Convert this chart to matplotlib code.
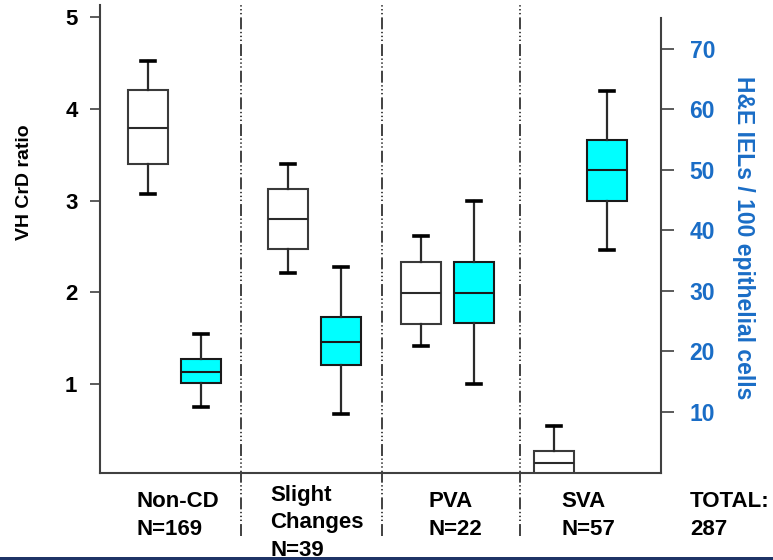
import matplotlib
matplotlib.use("Agg")
import matplotlib.pyplot as plt
from matplotlib.lines import Line2D
from matplotlib.patches import Rectangle
import matplotlib.transforms as mtransforms

plt.rcParams['font.family'] = ['Liberation Sans', 'DejaVu Sans']
plt.rcParams['font.weight'] = 'bold'
plt.rcParams['lines.scale_dashes'] = False

# ---------------- data ----------------
categories = ["Non-CD", "Slight\nChanges", "PVA", "SVA"]
counts = [169, 39, 22, 57]
total = 287

# VH CrD ratio (left axis): whislo, q1, median, q3, whishi
vh_whislo = [3.07, 2.21, 1.42, 0.00]
vh_q1     = [3.40, 2.47, 1.66, 0.00]
vh_med    = [3.79, 2.80, 1.99, 0.14]
vh_q3     = [4.20, 3.13, 2.33, 0.27]
vh_whishi = [4.52, 3.40, 2.61, 0.55]

# H&E IELs / 100 epithelial cells (right axis)
iel_whislo = [10.7, 9.6, 14.6, 36.8]
iel_q1     = [14.7, 17.7, 24.6, 44.8]
iel_med    = [16.6, 21.6, 29.6, 49.9]
iel_q3     = [18.7, 25.7, 34.7, 54.9]
iel_whishi = [22.9, 33.9, 44.9, 63.0]

left_ticks = [1, 2, 3, 4, 5]
right_ticks = [10, 20, 30, 40, 50, 60, 70]

# ---------------- layout ----------------
W, H = 773, 560
fig = plt.figure(figsize=(W / 100, H / 100), dpi=100)

ax_l, ax_r, ax_t, ax_b = 100, 661, 5, 473.3
ax = fig.add_axes([ax_l / W, (H - ax_b) / H, (ax_r - ax_l) / W, (ax_b - ax_t) / H])
ax2 = ax.twinx()

group_pos = [74.7, 214.3, 347.4, 480.5]
offset = 26.7
box_w = 40
dividers = [141, 281.7, 420]

BLUE = '#1a6dc6'
SPINE = '#404040'

def stats(lo, q1, med, q3, hi):
    return [dict(whislo=a, q1=b, med=c, q3=d, whishi=e, fliers=[])
            for a, b, c, d, e in zip(lo, q1, med, q3, hi)]

common = dict(widths=box_w, patch_artist=True, showfliers=False,
              capwidths=14, manage_ticks=False)

ax.bxp(stats(vh_whislo, vh_q1, vh_med, vh_q3, vh_whishi),
       positions=[p - offset for p in group_pos],
       boxprops=dict(facecolor='white', edgecolor='#3a3a3a', linewidth=1.5),
       medianprops=dict(color='#2a2a2a', linewidth=1.5),
       whiskerprops=dict(color='#2a2a2a', linewidth=1.6),
       capprops=dict(color='black', linewidth=2.6),
       **common)

ax2.bxp(stats(iel_whislo, iel_q1, iel_med, iel_q3, iel_whishi),
        positions=[p + offset for p in group_pos],
        boxprops=dict(facecolor='#00ffff', edgecolor='#1a1a1a', linewidth=1.5),
        medianprops=dict(color='#1a1a1a', linewidth=1.5),
        whiskerprops=dict(color='#2a2a2a', linewidth=1.6),
        capprops=dict(color='black', linewidth=2.6),
        **common)

ax.set_xlim(0, ax_r - ax_l)
ax.set_ylim(0.032, 5.127)
ax2.set_ylim(-0.18, 77.22)

# dividers (extend below the axes)
trans = mtransforms.blended_transform_factory(ax.transData, ax.transAxes)
y_low = (ax_b - 536) / (ax_b - ax_t)
for d in dividers:
    ax.add_line(Line2D([d, d], [y_low, 1.0], transform=trans, clip_on=False,
                       color='#333333', linewidth=1.3,
                       dashes=(8.6, 2.2, 1.0, 1.8, 1.0, 1.8, 1.0, 1.8)))

# spines
for a in (ax, ax2):
    a.spines['top'].set_visible(False)
ax.spines['right'].set_visible(False)
ax2.spines['left'].set_visible(False)
ax2.spines['bottom'].set_visible(False)
ax.spines['left'].set_color(SPINE)
ax.spines['bottom'].set_color(SPINE)
ax2.spines['right'].set_color(SPINE)
for s in (ax.spines['left'], ax.spines['bottom'], ax2.spines['right']):
    s.set_linewidth(1.5)
ax2.spines['right'].set_bounds(-0.18, 75.07)

ax.set_xticks([])
ax.set_yticks(left_ticks)
ax.set_yticklabels([str(t) for t in left_ticks])
ax.tick_params(axis='y', length=7.2, width=1.2, color=SPINE, pad=9,
               labelsize=16, labelcolor='black')
ax2.set_yticks(right_ticks)
ax2.set_yticklabels([str(t) for t in right_ticks])
ax2.tick_params(axis='y', length=9.6, width=1.2, color=SPINE, pad=11,
                labelsize=16.5, labelcolor=BLUE)
for lab in ax.get_yticklabels() + ax2.get_yticklabels():
    lab.set_fontweight('bold')

# axis titles
fig.text(25 / W, 1 - 182.5 / H, "VH CrD ratio", rotation=90, ha='center',
         va='center', fontsize=14, fontweight='bold', color='black')
fig.text(744 / W, 1 - 237.5 / H, "H&E IELs / 100 epithelial cells",
         rotation=270, ha='center', va='center', fontsize=16.5,
         fontweight='bold', color=BLUE)

# category labels below the axes
label_x = [136.7, 270.1, 428.4, 561.4]
label_y0 = [507.3, 500.7, 507.3, 507.3]
line_gap = 27.6
for cat, n, x, y0 in zip(categories, counts, label_x, label_y0):
    lines = cat.split("\n") + [f"N={n}"]
    for i, line in enumerate(lines):
        fig.text(x / W, 1 - (y0 + i * line_gap) / H, line, ha='left',
                 va='baseline', fontsize=16, fontweight='bold', color='black')
for i, line in enumerate(["TOTAL:", f"{total}"]):
    fig.text(690.1 / W, 1 - (507.3 + i * line_gap) / H, line, ha='left',
             va='baseline', fontsize=16, fontweight='bold', color='black')

# dark bottom rule
fig.add_artist(Rectangle((0, 0), 1, 3 / H, transform=fig.transFigure,
                         facecolor='#1f3466', edgecolor='none'))

fig.savefig("out.png", dpi=100)
